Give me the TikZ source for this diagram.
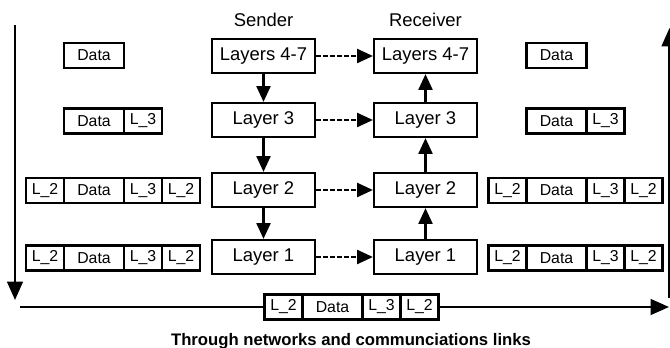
\documentclass[tikz,border=0pt]{standalone}
\usepackage{fontspec}
\setmainfont{Liberation Sans}
\usetikzlibrary{arrows.meta,positioning}
\tikzset{
  layer/.style={draw,line width=1.3pt,minimum width=2.06cm,minimum height=0.68cm,
    inner sep=0pt,font=\fontsize{10.5}{12}\selectfont},
  cell/.style={draw,fill=white,line width=1.3pt,minimum height=0.5cm,inner sep=0pt,
    outer sep=0pt,font=\fontsize{9}{10}\selectfont},
  hdr/.style={cell,minimum width=0.76cm},
  body/.style={cell,minimum width=1.2cm},
  down/.style={line width=1.2pt,-{Triangle[length=9pt,width=8pt]}},
  peer/.style={down,dash pattern=on 2.5pt off 1.5pt},
  flow/.style={line width=1.2pt,-{Triangle[length=10.5pt,width=9pt]}}
}

\begin{document}
\begin{tikzpicture}[x=0.02cm,y=-0.02cm]
  \useasboundingbox (0,0) rectangle (670,348);

  % the two stacks
  \node[anchor=base] (sender) at (263.5,27) {\fontsize{10.5}{12}\selectfont Sender};
  \node[anchor=base] (receiver) at (425.5,27) {\fontsize{10.5}{12}\selectfont Receiver};
  \node[layer] (s4) at (263.5,56) {Layers 4-7};
  \node[layer] (s3) at (263.5,120) {Layer 3};
  \node[layer] (s2) at (263.5,190) {Layer 2};
  \node[layer] (s1) at (263.5,257) {Layer 1};
  \node[layer] (r4) at (425.5,56) {Layers 4-7};
  \node[layer] (r3) at (425.5,120) {Layer 3};
  \node[layer] (r2) at (425.5,190) {Layer 2};
  \node[layer] (r1) at (425.5,257) {Layer 1};

  \draw[down] (s4) -- (s3);
  \draw[down] (s3) -- (s2);
  \draw[down] (s2) -- (s1);
  \draw[down] (r1) -- (r2);
  \draw[down] (r2) -- (r3);
  \draw[down] (r3) -- (r4);
  \foreach \n in {1,...,4}
    \draw[peer] (s\n) -- (r\n);

  % packets on each side
  \foreach \side/\x in {l/94,r/556.5} {
    \node[body] (\side d4) at (\x,55.5) {Data};
    \node[body] (\side d3) at (\x,121) {Data};
    \node[hdr,right=0pt of \side d3] (\side c3) {L\_3};
    \foreach \row/\y in {2/190.5,1/258} {
      \node[body] (\side d\row) at (\x,\y) {Data};
      \node[hdr,right=0pt of \side d\row] (\side c\row) {L\_3};
      \node[hdr,right=0pt of \side c\row] (\side t\row) {L\_2};
      \node[hdr,left=0pt of \side d\row] (\side h\row) {L\_2};
    }
  }

  % the link
  \node[body] (bd) at (332.5,307) {Data};
  \node[hdr,left=0pt of bd] (bh) {L\_2};
  \node[hdr,right=0pt of bd] (bc) {L\_3};
  \node[hdr,right=0pt of bc] (bt) {L\_2};
  \coordinate (lstart) at (20,307);
  \coordinate (lend) at (669,307);
  \draw[line width=1.2pt] (lstart) -- (bh.west);
  \draw[flow] (bt.east) -- (lend);

  \coordinate (dtop) at (15,25);
  \coordinate (dbot) at (15,300);
  \draw[flow] (dtop) -- (dbot);
  \coordinate (ubot) at (669.5,298);
  \coordinate (utop) at (669.5,28);
  \draw[flow] (ubot) -- (utop);

  \node[anchor=base,font=\bfseries\fontsize{9.5}{11}\selectfont] (caption) at (351,345)
    {Through networks and communciations links};
\end{tikzpicture}
\end{document}
